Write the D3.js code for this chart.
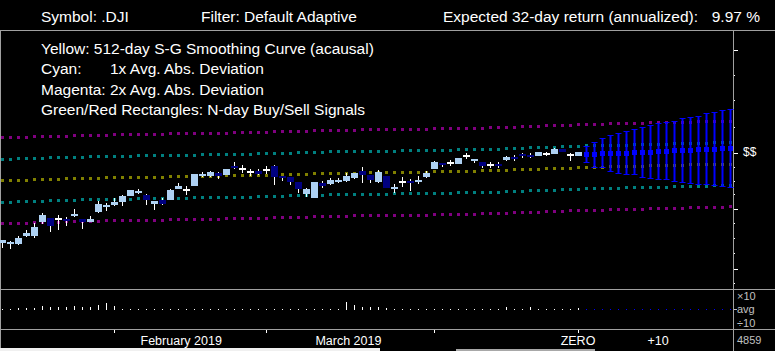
<!DOCTYPE html>
<html>
<head>
<meta charset="utf-8">
<script src="https://cdn.jsdelivr.net/npm/d3@7"></script>
<style>
html, body { margin: 0; padding: 0; background: #000; }
svg { display: block; }
text { font-family: "Liberation Sans", Arial, sans-serif; }
</style>
</head>
<body>
<div id="chart"></div>
<script>
const width = 775;
const height = 351;

// header / legend text
const symbol = '.DJI';
const filterName = 'Default Adaptive';
const horizonDays = 32;
const expectedReturn = 9.97;
const legendLines = [
    ['Yellow: 512-day S-G Smoothing Curve (acausal)'],
    ['Cyan:', '1x Avg. Abs. Deviation'],
    ['Magenta: 2x Avg. Abs. Deviation'],
    ['Green/Red Rectangles: N-day Buy/Sell Signals']
];

// daily candles [open, high, low, close], oldest first; the last one is day ZERO
const candles = [
    [23925, 24000, 23800, 24000], [23892, 23975, 23767, 23942], [23908, 24100, 23875, 24058],
    [24100, 24250, 24083, 24183], [24100, 24425, 24058, 24325], [24450, 24667, 24392, 24625],
    [24558, 24558, 24208, 24350], [24517, 24625, 24250, 24517], [24525, 24583, 24350, 24483],
    [24592, 24783, 24567, 24650], [24525, 24525, 24275, 24458], [24458, 24592, 24442, 24533],
    [24708, 24983, 24683, 24900], [24833, 24925, 24733, 24883], [24883, 25042, 24850, 24958],
    [24933, 25117, 24858, 25092], [25108, 25250, 25108, 25250], [25183, 25275, 25142, 25233],
    [25125, 25158, 24883, 25000], [24908, 24983, 24758, 24983], [25000, 25050, 24883, 24908],
    [25000, 25275, 25000, 25250], [25275, 25425, 25275, 25358], [25258, 25358, 25133, 25258],
    [25358, 25650, 25358, 25650], [25608, 25708, 25575, 25658], [25608, 25733, 25583, 25708],
    [25675, 25708, 25533, 25608], [25633, 25775, 25633, 25775], [25850, 25950, 25775, 25800],
    [25775, 25875, 25675, 25775], [25708, 25783, 25608, 25708], [25725, 25767, 25633, 25658],
    [25750, 25842, 25650, 25750], [25850, 25875, 25375, 25575], [25600, 25600, 25475, 25550],
    [25575, 25575, 25375, 25450], [25450, 25450, 25175, 25275], [25150, 25300, 25075, 25275],
    [25050, 25450, 25050, 25450], [25417, 25475, 25300, 25350], [25400, 25550, 25375, 25500],
    [25450, 25550, 25417, 25500], [25475, 25675, 25450, 25600], [25550, 25675, 25525, 25675],
    [25725, 25825, 25425, 25625], [25625, 25625, 25425, 25500], [25450, 25750, 25425, 25700],
    [25600, 25600, 25300, 25300], [25275, 25400, 25175, 25325], [25450, 25575, 25325, 25450],
    [25475, 25525, 25225, 25425], [25450, 25600, 25400, 25500], [25575, 25725, 25550, 25675],
    [25775, 25975, 25775, 25950], [25925, 25925, 25825, 25875], [25925, 26000, 25850, 25925],
    [25900, 26050, 25900, 26050], [26100, 26175, 26025, 26100], [25975, 26025, 25925, 26025],
    [25950, 25950, 25800, 25850], [25875, 25950, 25800, 25875], [25900, 25950, 25800, 25850],
    [26000, 26100, 25975, 26075], [26075, 26125, 25975, 26042], [26150, 26183, 26050, 26100],
    [26125, 26175, 26050, 26075], [26100, 26200, 26100, 26200], [26150, 26200, 26100, 26150],
    [26150, 26300, 26150, 26275], [26275, 26275, 26200, 26200], [26125, 26175, 25975, 26125],
    [26100, 26200, 26100, 26200]
];

// smoothing curve, one value per day (history + forecast)
const smooth = [
    25490, 25496, 25502, 25508, 25514, 25520, 25526, 25532, 25538, 25544, 25550, 25556,
    25559, 25563, 25566, 25570, 25573, 25576, 25580, 25583, 25586, 25590, 25593, 25597,
    25600, 25603, 25607, 25610, 25613, 25617, 25620, 25624, 25629, 25634, 25640, 25645,
    25650, 25656, 25661, 25666, 25671, 25677, 25682, 25685, 25687, 25690, 25692, 25695,
    25697, 25700, 25702, 25705, 25707, 25711, 25715, 25719, 25723, 25727, 25731, 25734,
    25738, 25742, 25749, 25756, 25763, 25770, 25777, 25784, 25791, 25798, 25805, 25812,
    25819, 25826, 25831, 25836, 25840, 25845, 25850, 25855, 25860, 25864, 25869, 25874,
    25879, 25884, 25888, 25893, 25898, 25903, 25908, 25912
];
const avgAbsDev = 537;
const bandMultipliers = [-2, -1, 1, 2];

// forecast days +1 .. +19
const fcMean = [26142, 26142, 26167, 26167, 26167, 26167, 26192, 26192, 26192, 26217,
    26217, 26242, 26242, 26242, 26267, 26267, 26267, 26292, 26292];
const fcHigh = [26358, 26458, 26542, 26617, 26667, 26717, 26767, 26817, 26867, 26917,
    26942, 26975, 27042, 27067, 27092, 27167, 27192, 27242, 27267];
const fcLow = [25917, 25808, 25792, 25700, 25658, 25617, 25617, 25558, 25517, 25508,
    25492, 25442, 25433, 25408, 25375, 25367, 25342, 25333, 25308];

// volume relative to its average
const volRatio = [
    1.0, 1.0, 1.12, 1.12, 1.12, 1.41, 1.26, 1.26, 1.26, 1.41, 1.26, 1.26, 1.58, 2.0, 1.41,
    1.0, 1.0, 1.0, 1.0, 1.0, 1.0, 1.0, 1.0, 1.0, 1.0, 1.0, 1.0, 1.0, 1.0, 1.0,
    1.0, 1.0, 1.0, 1.0, 1.0, 1.0, 1.0, 1.0, 1.0, 1.0, 1.0, 1.0, 1.0, 2.24, 1.58,
    1.26, 1.26, 1.26, 1.12, 1.0, 1.0, 1.0, 1.0, 1.0, 1.0, 1.0, 1.0, 1.0, 1.0, 1.0,
    1.0, 1.0, 1.0, 1.26, 1.0, 1.0, 1.26, 1.0, 1.0, 1.0, 1.0, 1.0, 1.12
];
const volumeAvg = 4859;

// price axis ticks (unlabelled)
const priceTicks = [28750, 28125, 27500, 26825, 26175, 25825, 25475, 25150, 24775,
    24425, 24050, 23675, 23275, 22925];
const majorPriceTicks = [28750, 26175, 24775, 23275];

// time axis, days relative to ZERO
const monthStarts = [-58, -39, -18];
const monthLabels = [['February 2019', -49.6], ['March 2019', -28.7]];
const dayLabels = [['ZERO', 0], ['+10', 10]];

const axisX = 733;
const headerY = 30.5;
const volTop = 289;
const volBottom = 329;
const grey = '#a0a0a0';
const colors = { up: '#add0f2', down: '#000080', smooth: '#808000', dev1: '#008080', dev2: '#800080', forecast: '#0000ff' };

const svg = d3.select('#chart').append('svg')
    .attr('width', width)
    .attr('height', height)
    .style('background', '#000');

const firstDay = -(candles.length - 1);
const x = d3.scaleLinear().domain([firstDay, fcMean.length]).range([2, 730]);
const y = d3.scaleLinear().domain([22000, 29000]).range([320, 40]);
const yVol = d3.scaleLog().domain([0.1, 10]).range([volBottom, volTop]);

// HEADER
const header = svg.append('g').attr('fill', '#fff').style('font-size', '15.5px');
header.append('text').attr('x', 41).attr('y', 22).text(`Symbol: ${symbol}`);
header.append('text').attr('x', 201).attr('y', 22).text(`Filter: ${filterName}`);
header.append('text').attr('x', 443).attr('y', 22).text(`Expected ${horizonDays}-day return (annualized):`);
header.append('text').attr('x', 760).attr('y', 22).attr('text-anchor', 'end').text(`${expectedReturn.toFixed(2)} %`);

// FRAME
const frame = svg.append('g').attr('stroke', grey).attr('stroke-width', 1);
frame.append('line').attr('x1', 0).attr('x2', width).attr('y1', headerY).attr('y2', headerY);
frame.append('line').attr('x1', 0.5).attr('x2', 0.5).attr('y1', headerY).attr('y2', 348);
frame.append('line').attr('x1', axisX + 0.5).attr('x2', axisX + 0.5).attr('y1', headerY).attr('y2', height);
frame.append('line').attr('x1', 0).attr('x2', width).attr('y1', volTop + 0.5).attr('y2', volTop + 0.5);
frame.append('line').attr('x1', 0).attr('x2', width).attr('y1', volBottom + 0.5).attr('y2', volBottom + 0.5);

// scroll strip along the bottom edge
svg.append('rect').attr('x', 0).attr('y', 348).attr('width', 380).attr('height', 3).attr('fill', '#f0f0f0');
svg.append('rect').attr('x', 456).attr('y', 349).attr('width', 139).attr('height', 2).attr('fill', '#a8a8a8');

// PRICE AXIS TICKS
svg.append('g').selectAll('line').data(priceTicks).join('line')
    .attr('x1', axisX + 1)
    .attr('x2', d => axisX + (majorPriceTicks.includes(d) ? 5 : 2))
    .attr('y1', d => Math.round(y(d)) + 0.5)
    .attr('y2', d => Math.round(y(d)) + 0.5)
    .attr('stroke', '#fff');

// DEVIATION BANDS + SMOOTHING CURVE (dotted squares)
const smoothDays = smooth.map((v, i) => ({ day: firstDay + i, v }));
const bands = [
    ...bandMultipliers.map(m => ({ m, color: Math.abs(m) === 1 ? colors.dev1 : colors.dev2 })),
    { m: 0, color: colors.smooth }
];
const bandGroup = svg.append('g');
bands.forEach(band => {
    bandGroup.append('g').selectAll('rect').data(smoothDays).join('rect')
        .attr('x', d => Math.round(x(d.day)) - 1)
        .attr('y', d => Math.round(y(d.v + band.m * avgAbsDev)) - 1)
        .attr('width', 3)
        .attr('height', 3)
        .attr('fill', band.color);
});

// CANDLES
const candleData = candles.map((c, i) => ({ day: firstDay + i, open: c[0], high: c[1], low: c[2], close: c[3] }));
const candleGroup = svg.append('g');
candleGroup.selectAll('line').data(candleData).join('line')
    .attr('x1', d => Math.round(x(d.day)) + 0.5)
    .attr('x2', d => Math.round(x(d.day)) + 0.5)
    .attr('y1', d => Math.round(y(d.high)))
    .attr('y2', d => Math.round(y(d.low)))
    .attr('stroke', '#fff');
candleGroup.selectAll('rect').data(candleData).join('rect')
    .attr('x', d => Math.round(x(d.day)) - 3)
    .attr('width', 7)
    .attr('y', d => Math.round(y(Math.max(d.open, d.close))) - (d.open === d.close ? 1 : 0))
    .attr('height', d => Math.max(2, Math.round(Math.abs(y(d.open) - y(d.close)))))
    .attr('fill', d => d.open === d.close ? '#fff' : (d.close > d.open ? colors.up : colors.down));

// FORECAST
const fcData = fcMean.map((m, i) => ({ day: i + 1, mean: m, high: fcHigh[i], low: fcLow[i] }));
const fcGroup = svg.append('g').attr('fill', colors.forecast);
fcGroup.selectAll('.stem').data(fcData).join('rect')
    .attr('x', d => Math.round(x(d.day)) - 0.5)
    .attr('width', 2)
    .attr('y', d => Math.round(y(d.high)))
    .attr('height', d => Math.round(y(d.low)) - Math.round(y(d.high)));
fcGroup.selectAll('.capTop').data(fcData).join('rect')
    .attr('x', d => Math.round(x(d.day)) - 2.5)
    .attr('width', 6)
    .attr('y', d => Math.round(y(d.high)))
    .attr('height', 1);
fcGroup.selectAll('.capBottom').data(fcData).join('rect')
    .attr('x', d => Math.round(x(d.day)) - 2.5)
    .attr('width', 6)
    .attr('y', d => Math.round(y(d.low)) - 1)
    .attr('height', 1);
fcGroup.selectAll('.mean').data(fcData).join('rect')
    .attr('x', d => Math.round(x(d.day)) - 2)
    .attr('width', 5)
    .attr('y', d => Math.round(y(d.mean)) - 2)
    .attr('height', 5);

// current price marker
svg.append('text')
    .attr('x', axisX + 10)
    .attr('y', y(candles[candles.length - 1][3]))
    .attr('dy', '0.35em')
    .attr('fill', '#fff')
    .style('font-size', '12px')
    .text('$$');

// VOLUME PANEL
const volData = volRatio.map((v, i) => ({ day: firstDay + i, v }));
svg.append('g').selectAll('rect').data(volData).join('rect')
    .attr('x', d => Math.round(x(d.day)))
    .attr('width', 1)
    .attr('y', d => Math.round(yVol(d.v)))
    .attr('height', d => Math.max(1, Math.round(yVol(1)) + 1 - Math.round(yVol(d.v))))
    .attr('fill', '#fff');
svg.append('g').selectAll('rect').data(fcData).join('rect')
    .attr('x', d => Math.round(x(d.day)))
    .attr('width', 1)
    .attr('y', Math.round(yVol(1)))
    .attr('height', 1)
    .attr('fill', colors.forecast);

const volLabels = svg.append('g').attr('fill', '#c0c0c0').style('font-size', '11px');
[['×10', 10], ['avg', 1], ['÷10', 0.1]].forEach(([t, v]) => {
    volLabels.append('text')
        .attr('x', axisX + 4)
        .attr('y', Math.min(Math.max(yVol(v), volTop + 7), volBottom - 6))
        .attr('dy', '0.35em')
        .text(t);
});
svg.append('line')
    .attr('x1', axisX + 1).attr('x2', axisX + 4)
    .attr('y1', Math.round(yVol(1)) + 0.5).attr('y2', Math.round(yVol(1)) + 0.5)
    .attr('stroke', '#c0c0c0');

// TIME AXIS
const timeAxis = svg.append('g');
timeAxis.selectAll('line').data([...monthStarts, 0]).join('line')
    .attr('x1', d => Math.round(x(d)) + 0.5)
    .attr('x2', d => Math.round(x(d)) + 0.5)
    .attr('y1', volBottom + 1)
    .attr('y2', volBottom + 4)
    .attr('stroke', '#fff');
timeAxis.selectAll('text').data([...monthLabels, ...dayLabels]).join('text')
    .attr('x', d => x(d[1]))
    .attr('y', 345)
    .attr('text-anchor', 'middle')
    .attr('fill', '#fff')
    .style('font-size', '12.5px')
    .text(d => d[0]);
svg.append('text')
    .attr('x', axisX + 4)
    .attr('y', 344)
    .attr('fill', '#c0c0c0')
    .style('font-size', '11px')
    .text(volumeAvg);

// LEGEND
const legend = svg.append('g').attr('fill', '#fff').style('font-size', '15.5px');
legendLines.forEach((parts, i) => {
    legend.append('text').attr('x', 41).attr('y', 54 + i * 20.3).text(parts[0]);
    if (parts[1]) legend.append('text').attr('x', 110).attr('y', 54 + i * 20.3).text(parts[1]);
});
</script>
</body>
</html>
